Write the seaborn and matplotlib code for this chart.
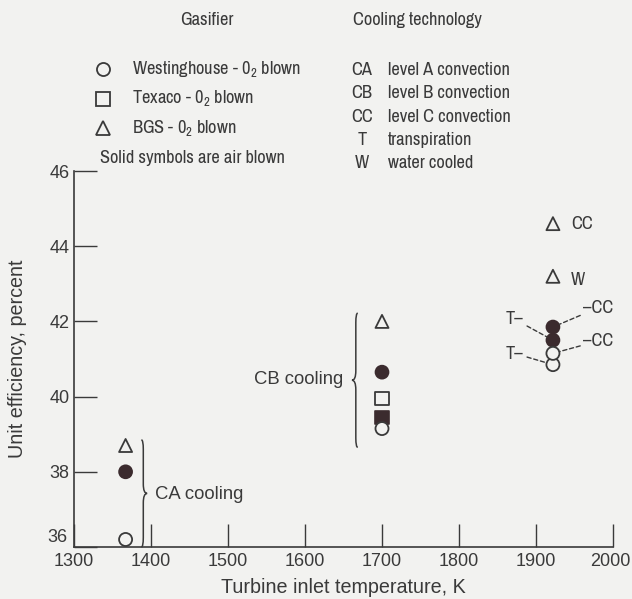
import os
import matplotlib
matplotlib.use("Agg")
import matplotlib.pyplot as plt
from matplotlib import font_manager as fm
from matplotlib.font_manager import FontProperties
from matplotlib.path import Path
from matplotlib.patches import PathPatch
from matplotlib.lines import Line2D
from matplotlib.transforms import ScaledTranslation
import pandas as pd
import seaborn as sns

# ---- plant cases: turbine inlet temperature (K) vs unit efficiency (%) ----
temperature = [1367, 1367, 1367,
               1700, 1700, 1700, 1700, 1700,
               1922, 1922, 1922, 1922, 1922, 1922]
efficiency = [36.2, 38.0, 38.7,
              39.15, 39.45, 39.95, 40.65, 42.0,
              40.85, 41.15, 41.5, 41.85, 43.2, 44.6]
gasifier = ["Westinghouse", "Westinghouse", "BGS",
            "Westinghouse", "Texaco", "Texaco", "Westinghouse", "BGS",
            "Westinghouse", "Westinghouse", "Westinghouse", "Westinghouse",
            "BGS", "BGS"]
oxidant = ["O2", "air", "O2",
           "O2", "air", "O2", "air", "O2",
           "O2", "O2", "air", "air", "O2", "O2"]
cooling = ["CA", "CA", "CA",
           "CB", "CB", "CB", "CB", "CB",
           "T", "CC", "T", "CC", "W", "CC"]

gasifier_order = ["Westinghouse", "Texaco", "BGS"]
gasifier_labels = ["Westinghouse - 0$_2$ blown", "Texaco - 0$_2$ blown",
                   "BGS - 0$_2$ blown"]
cooling_codes = ["CA", "CB", "CC", "T", "W"]
cooling_names = ["level A convection", "level B convection",
                 "level C convection", "transpiration", "water cooled"]

x_ticks = [1300, 1400, 1500, 1600, 1700, 1800, 1900, 2000]
y_ticks = [36, 38, 40, 42, 44, 46]

df = pd.DataFrame({"temperature": temperature, "efficiency": efficiency,
                   "gasifier": gasifier, "oxidant": oxidant,
                   "cooling": cooling})

# ---- style ----
BG = "#f2f2f0"
INK = "#3a3a3a"
FILL = "#3b2b2e"
MARKERS = {"Westinghouse": "o", "Texaco": "s", "BGS": "^"}

sns.set_theme(style="ticks")
plt.rcParams.update({
    "font.family": ["Liberation Sans", "DejaVu Sans"],
    "mathtext.default": "regular",
    "text.color": INK,
    "axes.labelcolor": INK,
    "xtick.color": INK,
    "ytick.color": INK,
})

fig = plt.figure(figsize=(6.32, 5.99), dpi=100, facecolor=BG)
renderer = fig.canvas.get_renderer()


def text_width(s, prop):
    return renderer.get_text_width_height_descent(s, prop, ismath=False)[0]


def narrow_font(sample="Cooling technology", target_px=129.0, base=13.5):
    """Pick the condensed sans face whose lettering width fits the key best,
    then fine-tune its size so the sample heading spans target_px."""
    skip = ["bold", "italic", "oblique", "light", "medium", "black", "thin",
            "heavy", "mono", "serif", "condensedsemi", "slab"]
    cands = [FontProperties(family=["Liberation Sans"], size=base)]
    seen = set()
    for f in fm.fontManager.ttflist:
        fn = os.path.basename(f.fname).lower()
        if not ("narrow" in fn or "condensed" in fn):
            continue
        if any(s in fn for s in skip) or f.fname in seen:
            continue
        seen.add(f.fname)
        cands.append(FontProperties(fname=f.fname, size=base))
    best = min(cands, key=lambda p: abs(text_width(sample, p) - target_px))
    best.set_size(base * target_px / text_width(sample, best))
    return best


NARROW = narrow_font()

ax = fig.add_axes([74 / 632, 1 - 547 / 599, (613 - 74) / 632, (547 - 171) / 599])
ax.set_facecolor(BG)

# air-blown cases (solid symbols) first, oxygen-blown (open symbols) on top
sns.scatterplot(data=df[df["oxidant"] == "air"], x="temperature", y="efficiency",
                style="gasifier", style_order=gasifier_order, markers=MARKERS,
                s=88, facecolor=FILL, edgecolor=FILL, linewidth=1.2,
                legend=False, zorder=3, ax=ax, clip_on=False)
sns.scatterplot(data=df[df["oxidant"] == "O2"], x="temperature", y="efficiency",
                style="gasifier", style_order=gasifier_order, markers=MARKERS,
                s=88, facecolor=BG, edgecolor=INK, linewidth=1.3,
                legend=False, zorder=4, ax=ax, clip_on=False)

ax.set_xlim(1300, 2000)
ax.set_ylim(36, 46)
ax.set_xticks(x_ticks)
ax.set_yticks(y_ticks)
ax.tick_params(axis="both", direction="in", length=16.5, width=1.0,
               labelsize=13)
ax.tick_params(axis="x", pad=4)
ax.tick_params(axis="y", pad=3)
sns.despine(ax=ax)
for side in ("left", "bottom"):
    ax.spines[side].set_color(INK)
    ax.spines[side].set_linewidth(1.2)
ax.set_xlabel("Turbine inlet temperature, K", fontsize=14.2, labelpad=6)
ax.set_ylabel("Unit efficiency, percent", fontsize=14.2, labelpad=15)

# lift the corner label clear of the x labels; keep the last x label inside
first_y = ax.yaxis.get_major_ticks()[0].label1
first_y.set_transform(first_y.get_transform()
                      + ScaledTranslation(-0.02, 0.12, fig.dpi_scale_trans))
last_x = ax.xaxis.get_major_ticks()[-1].label1
last_x.set_transform(last_x.get_transform()
                     + ScaledTranslation(-0.03, 0, fig.dpi_scale_trans))


def brace(ax, x, y0, y1, width, curl, facing):
    """Curly brace along y in data coordinates; facing=-1 puts the tip left."""
    ym = 0.5 * (y0 + y1)
    tip = x + facing * width
    back = x - facing * 0.5 * width
    verts = [(back, y1), (x, y1), (x, y1 - curl),
             (x, ym + curl),
             (x, ym), (tip, ym),
             (x, ym), (x, ym - curl),
             (x, y0 + curl),
             (x, y0), (back, y0)]
    codes = [Path.MOVETO, Path.CURVE3, Path.CURVE3,
             Path.LINETO,
             Path.CURVE3, Path.CURVE3,
             Path.CURVE3, Path.CURVE3,
             Path.LINETO,
             Path.CURVE3, Path.CURVE3]
    ax.add_patch(PathPatch(Path(verts, codes), fill=False, lw=1.1,
                           edgecolor=INK, clip_on=False, zorder=2))


ca = df[df["cooling"] == "CA"]
cb = df[df["cooling"] == "CB"]
brace(ax, ca["temperature"].iloc[0] + 23, 36.0, ca["efficiency"].max() + 0.15,
      5, 0.25, +1)
brace(ax, cb["temperature"].iloc[0] - 34, cb["efficiency"].min() - 0.5,
      cb["efficiency"].max() + 0.22, 5, 0.25, -1)
ax.text(ca["temperature"].iloc[0] + 38, 37.4, "CA cooling", fontsize=13.3,
        ha="left", va="center")
ax.text(cb["temperature"].iloc[0] - 50, 40.45, "CB cooling", fontsize=13.3,
        ha="right", va="center")

# labels on the 1922 K cases
hot = df[df["temperature"] == 1922]
for _, r in hot.iterrows():
    x, y = r["temperature"], r["efficiency"]
    if r["gasifier"] == "BGS":
        dy = 0 if r["cooling"] == "CC" else -3
        ax.annotate(r["cooling"], (x, y), xytext=(13, dy),
                    textcoords="offset points", ha="left", va="center",
                    fontproperties=NARROW)
        continue
    filled = r["oxidant"] == "air"
    if r["cooling"] == "T":
        text, dx, ha = "T\u2013", -21, "right"
        dy = 15 if filled else 8
    else:
        text, dx, ha = "\u2013CC", 22, "left"
        dy = 14 if filled else 9
    ax.annotate(text, (x, y), xytext=(dx, dy), textcoords="offset points",
                ha=ha, va="center", fontproperties=NARROW,
                arrowprops=dict(arrowstyle="-", linestyle=(0, (3, 2)),
                                lw=1.0, color=INK, shrinkA=0, shrinkB=5))


# ---- key above the axes ----
def fx(px):
    return px / 632


def fy(py):
    return 1 - py / 599


fig.text(fx(207), fy(20), "Gasifier", fontproperties=NARROW,
         ha="center", va="center")
for i, (g, lab) in enumerate(zip(gasifier_order, gasifier_labels)):
    ypx = 69 + i * 29.5
    fig.add_artist(Line2D([fx(103)], [fy(ypx)], marker=MARKERS[g],
                          markersize=9.4, markerfacecolor=BG,
                          markeredgecolor=INK, markeredgewidth=1.3,
                          linestyle="none", transform=fig.transFigure))
    fig.text(fx(132), fy(ypx), lab, fontproperties=NARROW,
             ha="left", va="center")
fig.text(fx(100), fy(158), "Solid symbols are air blown",
         fontproperties=NARROW, ha="left", va="center")

fig.text(fx(353), fy(20), "Cooling technology", fontproperties=NARROW,
         ha="left", va="center")
for i, (code, name) in enumerate(zip(cooling_codes, cooling_names)):
    ypx = 70 + i * 23.3
    fig.text(fx(362), fy(ypx), code, fontproperties=NARROW,
             ha="center", va="center")
    fig.text(fx(388), fy(ypx), name, fontproperties=NARROW,
             ha="left", va="center")

fig.savefig("out.png", dpi=100, facecolor=BG)
